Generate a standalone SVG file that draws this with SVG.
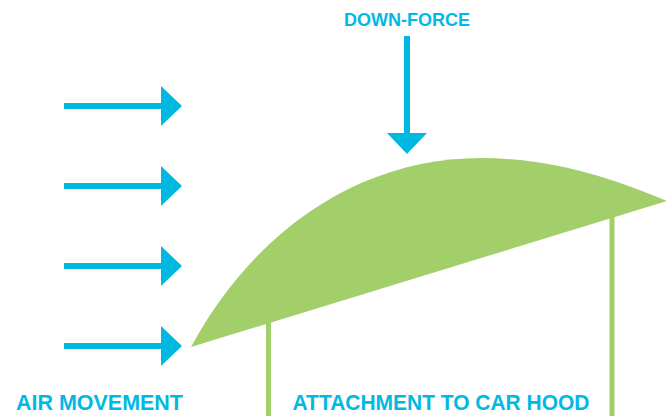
<svg xmlns="http://www.w3.org/2000/svg" width="672" height="416" viewBox="0 0 672 416">
  <style>
    .lbl { font-family: "Liberation Sans", Arial, sans-serif; font-weight: bold; fill: #00B9E3; }
    .shaft { stroke: #00B9E3; stroke-width: 6; fill: none; }
    .head { fill: #00B9E3; }
    .post { stroke: #A2CF69; stroke-width: 5; fill: none; }
  </style>
  <rect width="672" height="416" fill="#FFFFFF"/>
  <g id="wing">
    <line class="post" x1="268.5" y1="320" x2="268.5" y2="416"/>
    <line class="post" x1="612" y1="215" x2="612" y2="416"/>
    <path d="M191,347 C260,220 370,158 480,158 C560,158 620,182 667,201 Z" fill="#A2CF69"/>
  </g>
  <g id="connectors">
    <g id="air-arrow-1">
      <line class="shaft" x1="64" y1="106" x2="163" y2="106"/>
      <polygon class="head" points="161,86 182,106 161,126"/>
    </g>
    <g id="air-arrow-2">
      <line class="shaft" x1="64" y1="186" x2="163" y2="186"/>
      <polygon class="head" points="161,166 182,186 161,206"/>
    </g>
    <g id="air-arrow-3">
      <line class="shaft" x1="64" y1="266" x2="163" y2="266"/>
      <polygon class="head" points="161,246 182,266 161,286"/>
    </g>
    <g id="air-arrow-4">
      <line class="shaft" x1="64" y1="346" x2="163" y2="346"/>
      <polygon class="head" points="161,326 182,346 161,366"/>
    </g>
    <g id="down-arrow">
      <line class="shaft" x1="407" y1="36" x2="407" y2="135"/>
      <polygon class="head" points="387,133 427,133 407,154"/>
    </g>
  </g>
  <g id="label-downforce">
    <text class="lbl" x="344" y="26" font-size="18.5" textLength="126" lengthAdjust="spacingAndGlyphs">DOWN-FORCE</text>
  </g>
  <g id="label-air">
    <text class="lbl" x="16" y="409.5" font-size="22" textLength="167" lengthAdjust="spacingAndGlyphs">AIR MOVEMENT</text>
  </g>
  <g id="label-attachment">
    <text class="lbl" x="292.5" y="409.5" font-size="22" textLength="297" lengthAdjust="spacingAndGlyphs">ATTACHMENT TO CAR HOOD</text>
  </g>
</svg>
